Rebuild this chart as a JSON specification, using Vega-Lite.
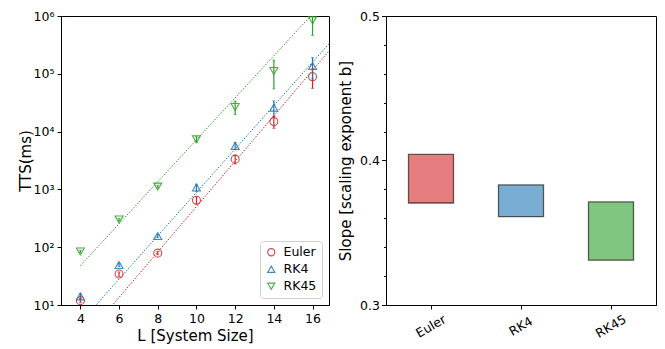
{
  "$schema": "https://vega.github.io/schema/vega-lite/v6.json",
  "padding": {"left": 17, "top": 9, "right": 5, "bottom": 5},
  "spacing": 8,
  "resolve": {"scale": {"color": "independent", "shape": "independent"}, "legend": {"color": "independent", "shape": "independent"}},
  "config": {
    "font": "DejaVu Sans",
    "view": {"stroke": "black", "strokeWidth": 1},
    "axis": {
      "grid": false,
      "labelFont": "DejaVu Sans",
      "titleFont": "DejaVu Sans",
      "labelFontSize": 12.5,
      "titleFontSize": 15,
      "titleFontWeight": "normal",
      "labelColor": "black",
      "titleColor": "black",
      "domainColor": "black",
      "tickColor": "black",
      "tickSize": 4,
      "domainWidth": 1,
      "tickWidth": 1
    },
    "legend": {
      "labelFont": "DejaVu Sans",
      "labelFontSize": 12.5,
      "labelColor": "black"
    }
  },
  "datasets": {
    "pts": [
      {"method": "Euler", "L": 4, "tts": 11.9, "lo": 10.9, "hi": 12.9},
      {"method": "Euler", "L": 6, "tts": 34.3, "lo": 31.3, "hi": 37.3},
      {"method": "Euler", "L": 8, "tts": 79, "lo": 74, "hi": 84},
      {"method": "Euler", "L": 10, "tts": 651, "lo": 560, "hi": 742},
      {"method": "Euler", "L": 12, "tts": 3337, "lo": 2750, "hi": 3920},
      {"method": "Euler", "L": 14, "tts": 14900, "lo": 11400, "hi": 18400},
      {"method": "Euler", "L": 16, "tts": 89100, "lo": 56100, "hi": 122100},
      {"method": "RK4", "L": 4, "tts": 14.1, "lo": 12.6, "hi": 15.6},
      {"method": "RK4", "L": 6, "tts": 49, "lo": 46, "hi": 52},
      {"method": "RK4", "L": 8, "tts": 156, "lo": 146, "hi": 166},
      {"method": "RK4", "L": 10, "tts": 1076, "lo": 926, "hi": 1226},
      {"method": "RK4", "L": 12, "tts": 5660, "lo": 4860, "hi": 6460},
      {"method": "RK4", "L": 14, "tts": 26000, "lo": 18000, "hi": 34000},
      {"method": "RK4", "L": 16, "tts": 136000, "lo": 82000, "hi": 190000},
      {"method": "RK45", "L": 4, "tts": 84.4, "lo": 80.4, "hi": 88.4},
      {"method": "RK45", "L": 6, "tts": 301, "lo": 286, "hi": 316},
      {"method": "RK45", "L": 8, "tts": 1120, "lo": 1060, "hi": 1180},
      {"method": "RK45", "L": 10, "tts": 7380, "lo": 6580, "hi": 8180},
      {"method": "RK45", "L": 12, "tts": 26700, "lo": 19700, "hi": 33700},
      {"method": "RK45", "L": 14, "tts": 112000, "lo": 55000, "hi": 172000},
      {"method": "RK45", "L": 16, "tts": 841000, "lo": 463000, "hi": 1219000}
    ],
    "fits": [
      {"method": "Euler", "L": 4, "tts": 2.21},
      {"method": "Euler", "L": 16.85, "tts": 248000},
      {"method": "RK4", "L": 4, "tts": 4.97},
      {"method": "RK4", "L": 16.85, "tts": 331000},
      {"method": "RK45", "L": 4, "tts": 47.8},
      {"method": "RK45", "L": 16.85, "tts": 2220000}
    ],
    "slopes": [
      {"method": "Euler", "lo": 0.3706, "hi": 0.4042},
      {"method": "RK4", "lo": 0.3611, "hi": 0.3831},
      {"method": "RK45", "lo": 0.331, "hi": 0.3713}
    ],
    "minor": [
      {"v": 0.32}, {"v": 0.34}, {"v": 0.36}, {"v": 0.38},
      {"v": 0.42}, {"v": 0.44}, {"v": 0.46}, {"v": 0.48}
    ]
  },
  "hconcat": [
    {
      "width": 268,
      "height": 289,
      "layer": [
        {
          "data": {"name": "fits"},
          "mark": {"type": "line", "clip": true, "strokeWidth": 1, "strokeDash": [1.5, 1.5]},
          "encoding": {
            "x": {"field": "L", "type": "quantitative"},
            "y": {"field": "tts", "type": "quantitative"},
            "stroke": {"field": "method", "type": "nominal", "scale": {"domain": ["Euler", "RK4", "RK45"], "range": ["#d62728", "#1f77b4", "#2ca02c"]}, "legend": null},
            "detail": {"field": "method"}
          }
        },
        {
          "data": {"name": "pts"},
          "mark": {"type": "rule", "clip": true, "strokeWidth": 1.2},
          "encoding": {
            "x": {"field": "L", "type": "quantitative"},
            "y": {"field": "lo", "type": "quantitative"},
            "y2": {"field": "hi"},
            "stroke": {"field": "method", "type": "nominal", "legend": null}
          }
        },
        {
          "data": {"name": "pts"},
          "mark": {"type": "tick", "clip": true, "orient": "horizontal", "size": 3, "thickness": 1},
          "encoding": {
            "x": {"field": "L", "type": "quantitative"},
            "y": {"field": "lo", "type": "quantitative"},
            "fill": {"field": "method", "type": "nominal", "scale": {"domain": ["Euler", "RK4", "RK45"], "range": ["#d62728", "#1f77b4", "#2ca02c"]}, "legend": null}
          }
        },
        {
          "data": {"name": "pts"},
          "mark": {"type": "tick", "clip": true, "orient": "horizontal", "size": 3, "thickness": 1},
          "encoding": {
            "x": {"field": "L", "type": "quantitative"},
            "y": {"field": "hi", "type": "quantitative"},
            "fill": {"field": "method", "type": "nominal", "legend": null}
          }
        },
        {
          "data": {"name": "pts"},
          "mark": {"type": "point", "filled": false, "size": 64, "strokeWidth": 1.1, "opacity": 0.85},
          "encoding": {
            "x": {
              "field": "L",
              "type": "quantitative",
              "scale": {"domain": [3.0, 16.85], "nice": false, "zero": false},
              "axis": {"values": [4, 6, 8, 10, 12, 14, 16], "title": "L [System Size]", "titlePadding": 4, "labelPadding": 3}
            },
            "y": {
              "field": "tts",
              "type": "quantitative",
              "scale": {"type": "log", "domain": [10, 1000000], "nice": false},
              "axis": {
                "values": [10, 100, 1000, 10000, 100000, 1000000],
                "labelExpr": "'10' + ['⁰','¹','²','³','⁴','⁵','⁶'][round(log(datum.value)/LN10)]",
                "title": "TTS(ms)",
                "titlePadding": 0,
                "labelPadding": 3
              }
            },
            "color": {
              "field": "method",
              "type": "nominal",
              "scale": {"domain": ["Euler", "RK4", "RK45"], "range": ["#d62728", "#1f77b4", "#2ca02c"]},
              "legend": {
                "title": null,
                "orient": "bottom-right",
                "offset": 7,
                "padding": 5,
                "strokeColor": "#d0d0d0",
                "fillColor": "white",
                "cornerRadius": 3,
                "rowPadding": 4,
                "symbolSize": 50,
                "symbolStrokeWidth": 1.2,
                "labelOffset": 6
              }
            },
            "shape": {
              "field": "method",
              "type": "nominal",
              "scale": {"domain": ["Euler", "RK4", "RK45"], "range": ["circle", "triangle-up", "triangle-down"]},
              "legend": {
                "title": null,
                "orient": "bottom-right",
                "offset": 7,
                "padding": 5,
                "strokeColor": "#d0d0d0",
                "fillColor": "white",
                "cornerRadius": 3,
                "rowPadding": 4,
                "symbolSize": 50,
                "symbolStrokeWidth": 1.2,
                "labelOffset": 6
              }
            }
          }
        },
        {
          "mark": {"type": "text", "align": "left", "baseline": "middle", "fontSize": 14.5, "font": "DejaVu Sans", "color": "black"},
          "encoding": {
            "x": {"datum": 3.26, "type": "quantitative"},
            "y": {"datum": 670000, "type": "quantitative"},
            "text": {"value": "(a)"}
          }
        }
      ]
    },
    {
      "width": 270,
      "height": 289,
      "resolve": {"axis": {"y": "independent"}},
      "layer": [
        {
          "data": {"name": "slopes"},
          "mark": {"type": "bar", "fillOpacity": 0.6, "stroke": "black", "strokeOpacity": 0.6, "strokeWidth": 1.3},
          "encoding": {
            "x": {
              "field": "method",
              "type": "nominal",
              "sort": ["Euler", "RK4", "RK45"],
              "scale": {"paddingInner": 0.5, "paddingOuter": 0.25},
              "axis": {"title": null, "labelAngle": -30, "labelAlign": "center", "labelBaseline": "middle", "labelPadding": 17}
            },
            "y": {
              "field": "lo",
              "type": "quantitative",
              "scale": {"domain": [0.3, 0.5], "nice": false, "zero": false},
              "axis": {
                "orient": "left",
                "values": [0.3, 0.4, 0.5],
                "format": ".1f",
                "tickSize": 4.5,
                "title": "Slope [scaling exponent b]",
                "titlePadding": 6,
                "labelPadding": 2
              }
            },
            "y2": {"field": "hi"},
            "color": {
              "field": "method",
              "type": "nominal",
              "scale": {"domain": ["Euler", "RK4", "RK45"], "range": ["#d62728", "#1f77b4", "#2ca02c"]},
              "legend": null
            }
          }
        },
        {
          "data": {"name": "minor"},
          "mark": {"type": "tick", "opacity": 0},
          "encoding": {
            "y": {
              "field": "v",
              "type": "quantitative",
              "axis": {
                "orient": "left",
                "values": [0.32, 0.34, 0.36, 0.38, 0.42, 0.44, 0.46, 0.48],
                "labels": false,
                "domain": false,
                "title": null,
                "tickSize": 2.5
              }
            }
          }
        },
        {
          "mark": {"type": "text", "align": "left", "baseline": "middle", "fontSize": 14.5, "font": "DejaVu Sans", "color": "black", "dx": -17},
          "encoding": {
            "x": {"datum": "Euler", "type": "nominal", "bandPosition": 0},
            "y": {"datum": 0.4865, "type": "quantitative", "axis": null},
            "text": {"value": "(b)"}
          }
        }
      ]
    }
  ]
}
